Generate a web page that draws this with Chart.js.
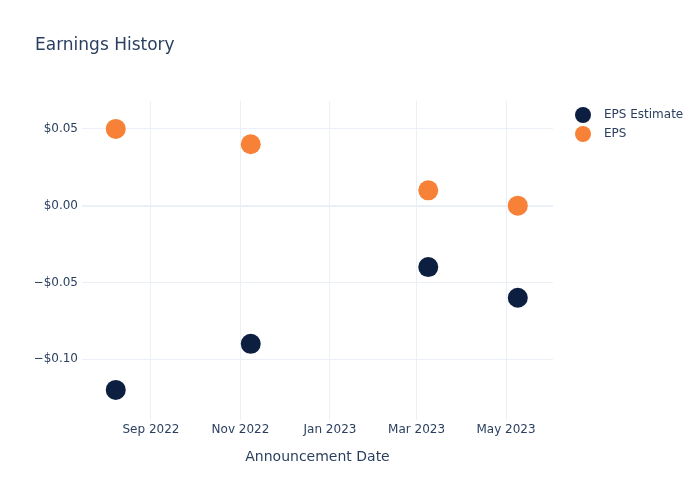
<!DOCTYPE html>
<html>
<head>
<meta charset="utf-8">
<script src="https://cdn.jsdelivr.net/npm/chart.js@4/dist/chart.umd.min.js"></script>
<style>
  html, body { margin: 0; padding: 0; background: #fff; }
  #wrap { width: 700px; height: 500px; }
</style>
</head>
<body>
<div id="wrap"><canvas id="chart" width="700" height="500"></canvas></div>
<script>
// announcement dates and the two EPS series
const dates = ['2022-08-08', '2022-11-08', '2023-03-09', '2023-05-09'];
const epsEstimate = [-0.12, -0.09, -0.04, -0.06];
const eps = [0.05, 0.04, 0.01, 0.00];

// axis ticks
const xTickDates = ['2022-09-01', '2022-11-01', '2023-01-01', '2023-03-01', '2023-05-01'];
const xTickLabels = ['Sep 2022', 'Nov 2022', 'Jan 2023', 'Mar 2023', 'May 2023'];
const yTickValues = [0.05, 0, -0.05, -0.10];
const yTickLabels = ['$0.05', '$0.00', '\u2212$0.05', '\u2212$0.10'];

const xRange = ['2022-07-16', '2023-06-02'];
const yRange = [-0.1396, 0.0682];

const FONT = '"DejaVu Sans", Verdana, sans-serif';
const TEXT = '#2a3f5f';
const GRID = '#ebf0f8';

const toPoints = (vals) => vals.map((v, i) => ({ x: Date.parse(dates[i]), y: v }));

// plotly style legend at the right of the plot
const sideLegend = {
    id: 'sideLegend',
    afterDraw(chart) {
        const c = chart.ctx;
        const left = chart.chartArea.right + 30;
        c.save();
        c.font = '12px ' + FONT;
        c.textBaseline = 'middle';
        chart.data.datasets.forEach((ds, i) => {
            const y = chart.chartArea.top + 14 + i * 19;
            c.beginPath();
            c.arc(left, y, 8, 0, Math.PI * 2);
            c.fillStyle = ds.backgroundColor;
            c.fill();
            c.fillStyle = TEXT;
            c.fillText(ds.label, left + 21, y);
        });
        c.restore();
    }
};

new Chart(document.getElementById('chart'), {
    type: 'scatter',
    data: {
        datasets: [
            {
                label: 'EPS Estimate',
                data: toPoints(epsEstimate),
                backgroundColor: '#0c1f40',
                borderColor: '#0c1f40',
                pointRadius: 10,
                borderWidth: 0
            },
            {
                label: 'EPS',
                data: toPoints(eps),
                backgroundColor: '#f78136',
                borderColor: '#f78136',
                pointRadius: 10,
                borderWidth: 0
            }
        ]
    },
    options: {
        responsive: false,
        animation: false,
        layout: { padding: { left: 35, right: 147, top: 0, bottom: 0 } },
        plugins: {
            legend: { display: false },
            tooltip: { enabled: false },
            title: {
                display: true,
                text: 'Earnings History',
                align: 'start',
                color: TEXT,
                font: { family: FONT, size: 17, weight: 'normal' },
                padding: { top: 35, bottom: 45.6 }
            }
        },
        scales: {
            x: {
                type: 'linear',
                min: Date.parse(xRange[0]),
                max: Date.parse(xRange[1]),
                afterBuildTicks: (axis) => {
                    axis.ticks = xTickDates.map(d => ({ value: Date.parse(d) }));
                },
                afterFit: (axis) => { axis.height = 80; },
                ticks: {
                    color: TEXT,
                    font: { family: FONT, size: 12 },
                    padding: 3,
                    maxRotation: 0,
                    autoSkip: false,
                    callback: (value) => xTickLabels[xTickDates.findIndex(d => Date.parse(d) === value)]
                },
                grid: { color: GRID, drawTicks: false },
                border: { display: false },
                title: {
                    display: true,
                    text: 'Announcement Date',
                    color: TEXT,
                    font: { family: FONT, size: 14 },
                    padding: { top: 0, bottom: 34.6 }
                }
            },
            y: {
                min: yRange[0],
                max: yRange[1],
                afterBuildTicks: (axis) => {
                    axis.ticks = yTickValues.map(v => ({ value: v }));
                },
                afterFit: (axis) => { axis.width = 47; },
                ticks: {
                    color: TEXT,
                    font: { family: FONT, size: 12 },
                    padding: 4,
                    callback: (value) => yTickLabels[yTickValues.findIndex(v => Math.abs(v - value) < 1e-9)]
                },
                grid: {
                    color: GRID,
                    drawTicks: false,
                    lineWidth: (ctx) => (ctx.tick && ctx.tick.value === 0 ? 2 : 1)
                },
                border: { display: false }
            }
        }
    },
    plugins: [sideLegend]
});
</script>
</body>
</html>
